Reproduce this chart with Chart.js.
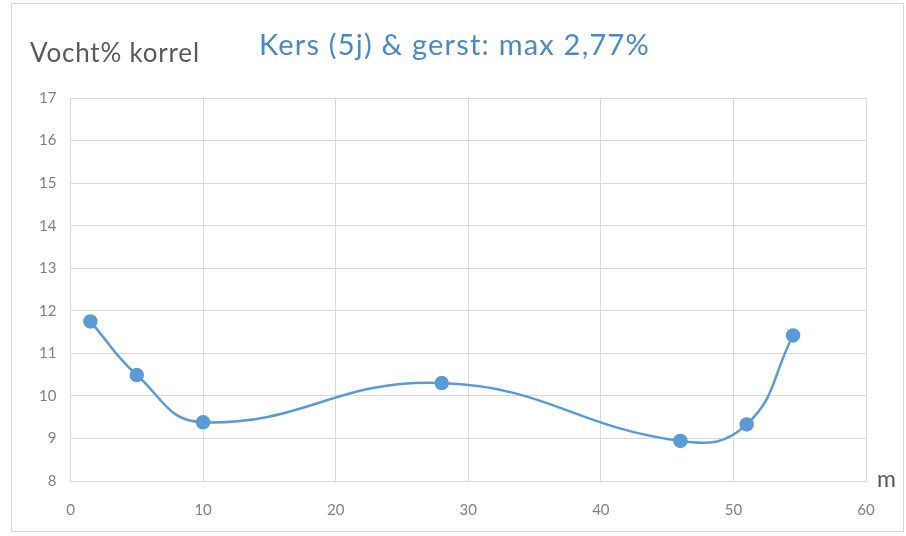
<!DOCTYPE html>
<html>
<head>
<meta charset="utf-8">
<script src="https://cdn.jsdelivr.net/npm/chart.js@4.4.1/dist/chart.umd.min.js"></script>
<style>
  body { margin: 0; background: #fff; }
  #wrap { position: relative; width: 906px; height: 536px; overflow: hidden; }
  #frame { position: absolute; left: 11px; top: 3px; width: 893px; height: 529px; border: 1px solid #d9d9d9; box-sizing: border-box; }
  #chartBox { position: absolute; left: 0; top: 0; width: 906px; height: 536px; }
  .lbl { position: absolute; font-family: Lato, "Open Sans", sans-serif; white-space: nowrap; }
  #yTitle { left: 30px; top: 36px; font-size: 26px; letter-spacing: 0.8px; color: #595959; }
  #mainTitle { left: 259px; top: 26px; font-size: 29px; letter-spacing: 1.2px; color: #4a89c8; }
  #xUnit { left: 877px; top: 464px; font-size: 23px; color: #595959; }
</style>
</head>
<body>
<div id="wrap">
  <div id="frame"></div>
  <div id="chartBox"><canvas id="moistChart"></canvas></div>
  <div class="lbl" id="yTitle">Vocht% korrel</div>
  <div class="lbl" id="mainTitle">Kers (5j) &amp; gerst: max 2,77%</div>
  <div class="lbl" id="xUnit">m</div>
</div>
<script>
// afstand (m) en vochtgehalte korrel (%)
const distances = [1.5, 5, 10, 28, 46, 51, 54.5];
const moisture = [11.75, 10.49, 9.38, 10.3, 8.94, 9.33, 11.42];
const xTicks = [0, 10, 20, 30, 40, 50, 60];
const yTicks = [8, 9, 10, 11, 12, 13, 14, 15, 16, 17];

const points = distances.map((d, i) => ({ x: d, y: moisture[i] }));
const tickFont = { family: 'Lato, "Open Sans", sans-serif', size: 15 };

new Chart(document.getElementById('moistChart').getContext('2d'), {
  type: 'scatter',
  data: {
    datasets: [{
      label: 'Vocht%',
      data: points,
      showLine: true,
      tension: 0.45,
      borderColor: '#5b9bd5',
      borderWidth: 2.5,
      backgroundColor: '#5b9bd5',
      pointRadius: 6,
      pointHoverRadius: 6
    }]
  },
  options: {
    responsive: true,
    maintainAspectRatio: false,
    animation: false,
    layout: { padding: { left: 20, right: 40, top: 98, bottom: 10 } },
    plugins: { legend: { display: false }, tooltip: { enabled: false } },
    scales: {
      x: {
        type: 'linear',
        min: 0,
        max: 60,
        afterBuildTicks: s => { s.ticks = xTicks.map(v => ({ value: v })); },
        afterFit: s => { s.height = 536 - 481 - 10; },
        grid: { color: '#d9d9d9', drawTicks: false },
        border: { color: '#d9d9d9' },
        ticks: { color: '#808080', font: tickFont, padding: 20 }
      },
      y: {
        min: 8,
        max: 17,
        afterBuildTicks: s => { s.ticks = yTicks.map(v => ({ value: v })); },
        afterFit: s => { s.width = 70.5 - 20; },
        grid: { color: '#d9d9d9', drawTicks: false },
        border: { display: false },
        ticks: { color: '#808080', font: tickFont, padding: 14 }
      }
    }
  }
});
</script>
</body>
</html>
